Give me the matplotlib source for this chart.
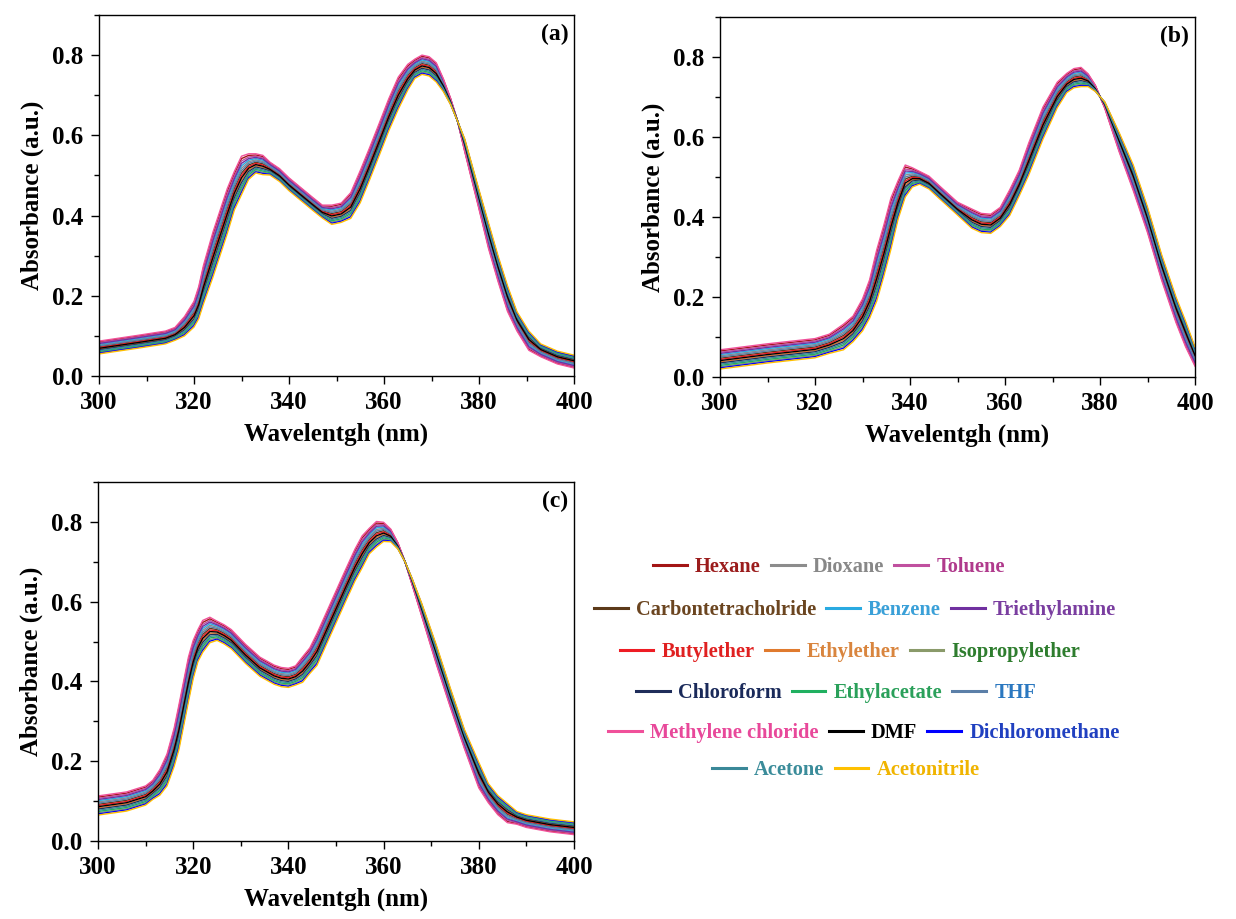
import numpy as np
import matplotlib
matplotlib.use("Agg")
import matplotlib.pyplot as plt
from matplotlib.lines import Line2D
from matplotlib.ticker import MultipleLocator

solvents = ["Hexane", "Dioxane", "Toluene", "Carbontetracholride", "Benzene",
            "Triethylamine", "Butylether", "Ethylether", "Isopropylether",
            "Chloroform", "Ethylacetate", "THF", "Methylene chloride", "DMF",
            "Dichloromethane", "Acetone", "Acetonitrile"]
line_colors = ["#a31515", "#8c8c8c", "#c0509f", "#5c3a1a", "#29aae1",
               "#7030a0", "#ee1c24", "#e07a2e", "#8a9a6a", "#1f2d5a",
               "#20b060", "#5b7fa8", "#f0509a", "#000000", "#0000ff",
               "#3a8898", "#ffc000"]
text_colors = ["#9b1c1c", "#888888", "#b03a8c", "#6b4520", "#3aa0d8",
               "#7a3ea0", "#e02020", "#d9853e", "#2e7d2e", "#1a2a5a",
               "#2aa05a", "#2b78c0", "#e8489a", "#000000", "#2040c0",
               "#3b8c9a", "#f0b400"]

# absorbance in mAU: one row per wavelength, columns in the solvent order above
wl_a = [300, 308, 314, 316, 318, 320, 321, 322, 324, 327, 328.5, 330, 331.5,
        333, 334.5, 336, 338, 340, 345, 347, 349, 351, 353, 355, 357, 359, 361,
        363, 365, 366.5, 368, 369.5, 371, 372.5, 374, 375.5, 377, 380, 382,
        384, 386, 388, 390.5, 393, 396.5, 400]
abs_a = [
    [85, 77, 83, 73, 79, 81, 71, 67, 59, 65, 61, 75, 87, 69, 57, 63, 55],
    [99, 91, 97, 87, 93, 95, 85, 81, 73, 79, 75, 89, 101, 83, 71, 77, 69],
    [110, 102, 108, 98, 104, 106, 96, 92, 84, 90, 86, 100, 112, 94, 82, 88, 80],
    [119, 111, 117, 107, 113, 115, 105, 101, 93, 99, 95, 109, 121, 103, 91, 97, 89],
    [145, 133, 142, 127, 136, 139, 124, 118, 106, 115, 109, 130, 148, 121, 103, 112, 100],
    [182, 166, 178, 158, 170, 174, 154, 146, 130, 142, 134, 162, 186, 150, 126, 138, 122],
    [218, 198, 213, 188, 203, 208, 183, 173, 153, 168, 158, 193, 223, 178, 148, 163, 143],
    [270, 246, 264, 234, 252, 258, 228, 216, 192, 210, 198, 240, 276, 222, 186, 204, 180],
    [352, 324, 345, 310, 331, 338, 303, 289, 261, 282, 268, 317, 359, 296, 254, 275, 247],
    [460, 432, 453, 418, 439, 446, 411, 397, 369, 390, 376, 425, 467, 404, 362, 383, 355],
    [504, 480, 498, 468, 486, 492, 462, 450, 426, 444, 432, 474, 510, 456, 420, 438, 414],
    [542, 518, 536, 506, 524, 530, 500, 488, 464, 482, 470, 512, 548, 494, 458, 476, 452],
    [550, 534, 546, 526, 538, 542, 522, 514, 498, 510, 502, 530, 554, 518, 494, 506, 490],
    [551, 539, 548, 533, 542, 545, 530, 524, 512, 521, 515, 536, 554, 527, 509, 518, 506],
    [547, 535, 544, 529, 538, 541, 526, 520, 508, 517, 511, 532, 550, 523, 505, 514, 502],
    [531, 523, 529, 519, 525, 527, 517, 513, 505, 511, 507, 521, 533, 515, 503, 509, 501],
    [515, 507, 513, 503, 509, 511, 501, 497, 489, 495, 491, 505, 517, 499, 487, 493, 485],
    [492, 484, 490, 480, 486, 488, 478, 474, 466, 472, 468, 482, 494, 476, 464, 470, 462],
    [443, 435, 441, 431, 437, 439, 429, 425, 417, 423, 419, 433, 445, 427, 415, 421, 413],
    [424, 416, 422, 412, 418, 420, 410, 406, 398, 404, 400, 414, 426, 408, 396, 402, 394],
    [423, 411, 420, 405, 414, 417, 402, 396, 384, 393, 387, 408, 426, 399, 381, 390, 378],
    [428, 416, 425, 410, 419, 422, 407, 401, 389, 398, 392, 413, 431, 404, 386, 395, 383],
    [453, 437, 449, 429, 441, 445, 425, 417, 401, 413, 405, 433, 457, 421, 397, 409, 393],
    [507, 487, 502, 477, 492, 497, 472, 462, 442, 457, 447, 482, 512, 467, 437, 452, 432],
    [565, 545, 560, 535, 550, 555, 530, 520, 500, 515, 505, 540, 570, 525, 495, 510, 490],
    [625, 605, 620, 595, 610, 615, 590, 580, 560, 575, 565, 600, 630, 585, 555, 570, 550],
    [686, 666, 681, 656, 671, 676, 651, 641, 621, 636, 626, 661, 691, 646, 616, 631, 611],
    [740, 720, 735, 710, 725, 730, 705, 695, 675, 690, 680, 715, 745, 700, 670, 685, 665],
    [773, 757, 769, 749, 761, 765, 745, 737, 721, 733, 725, 753, 777, 741, 717, 729, 713],
    [787, 775, 784, 769, 778, 781, 766, 760, 748, 757, 751, 772, 790, 763, 745, 754, 742],
    [797, 785, 794, 779, 788, 791, 776, 770, 758, 767, 761, 782, 800, 773, 755, 764, 752],
    [793, 781, 790, 775, 784, 787, 772, 766, 754, 763, 757, 778, 796, 769, 751, 760, 748],
    [778, 766, 775, 760, 769, 772, 757, 751, 739, 748, 742, 763, 781, 754, 736, 745, 733],
    [739, 731, 737, 727, 733, 735, 725, 721, 713, 719, 715, 729, 741, 723, 711, 717, 709],
    [692, 688, 691, 686, 689, 690, 685, 683, 679, 682, 680, 687, 693, 684, 678, 681, 677],
    [635, 635, 635, 635, 635, 635, 635, 635, 635, 635, 635, 635, 635, 635, 635, 635, 635],
    [561, 569, 563, 573, 567, 565, 575, 579, 587, 581, 585, 571, 559, 577, 589, 583, 591],
    [419, 431, 422, 437, 428, 425, 440, 446, 458, 449, 455, 434, 416, 443, 461, 452, 464],
    [322, 338, 326, 346, 334, 330, 350, 358, 374, 362, 370, 342, 318, 354, 378, 366, 382],
    [240, 256, 244, 264, 252, 248, 268, 276, 292, 280, 288, 260, 236, 272, 296, 284, 300],
    [165, 181, 169, 189, 177, 173, 193, 201, 217, 205, 213, 185, 161, 197, 221, 209, 225],
    [115, 127, 118, 133, 124, 121, 136, 142, 154, 145, 151, 130, 112, 139, 157, 148, 160],
    [67, 79, 70, 85, 76, 73, 88, 94, 106, 97, 103, 82, 64, 91, 109, 100, 112],
    [50, 58, 52, 62, 56, 54, 64, 68, 76, 70, 74, 60, 48, 66, 78, 72, 80],
    [32, 40, 34, 44, 38, 36, 46, 50, 58, 52, 56, 42, 30, 48, 60, 54, 62],
    [22, 30, 24, 34, 28, 26, 36, 40, 48, 42, 46, 32, 20, 38, 50, 44, 52],
]

wl_b = [300, 310, 320, 323, 326, 328, 330, 331.5, 333, 334.5, 336, 337.5, 339,
        340.5, 342, 344, 346, 350, 353, 355, 357, 359, 361, 363, 365, 368, 371,
        373, 374.5, 376, 377.5, 379, 381, 384, 387, 390, 393, 396, 398, 400]
abs_b = [
    [65, 53, 62, 47, 56, 59, 44, 38, 26, 35, 29, 50, 68, 41, 23, 32, 20],
    [80, 68, 77, 62, 71, 74, 59, 53, 41, 50, 44, 65, 83, 56, 38, 47, 35],
    [93, 81, 90, 75, 84, 87, 72, 66, 54, 63, 57, 78, 96, 69, 51, 60, 48],
    [104, 92, 101, 86, 95, 98, 83, 77, 65, 74, 68, 89, 107, 80, 62, 71, 59],
    [128, 112, 124, 104, 116, 120, 100, 92, 76, 88, 80, 108, 132, 96, 72, 84, 68],
    [148, 132, 144, 124, 136, 140, 120, 112, 96, 108, 100, 128, 152, 116, 92, 104, 88],
    [190, 170, 185, 160, 175, 180, 155, 145, 125, 140, 130, 165, 195, 150, 120, 135, 115],
    [237, 213, 231, 201, 219, 225, 195, 183, 159, 177, 165, 207, 243, 189, 153, 171, 147],
    [310, 278, 302, 262, 286, 294, 254, 238, 206, 230, 214, 270, 318, 246, 198, 222, 190],
    [372, 340, 364, 324, 348, 356, 316, 300, 268, 292, 276, 332, 380, 308, 260, 284, 252],
    [440, 408, 432, 392, 416, 424, 384, 368, 336, 360, 344, 400, 448, 376, 328, 352, 320],
    [485, 461, 479, 449, 467, 473, 443, 431, 407, 425, 413, 455, 491, 437, 401, 419, 395],
    [525, 505, 520, 495, 510, 515, 490, 480, 460, 475, 465, 500, 530, 485, 455, 470, 450],
    [520, 508, 517, 502, 511, 514, 499, 493, 481, 490, 484, 505, 523, 496, 478, 487, 475],
    [512, 504, 510, 500, 506, 508, 498, 494, 486, 492, 488, 502, 514, 496, 484, 490, 482],
    [500, 492, 498, 488, 494, 496, 486, 482, 474, 480, 476, 490, 502, 484, 472, 478, 470],
    [478, 470, 476, 466, 472, 474, 464, 460, 452, 458, 454, 468, 480, 462, 450, 456, 448],
    [435, 427, 433, 423, 429, 431, 421, 417, 409, 415, 411, 425, 437, 419, 407, 413, 405],
    [417, 405, 414, 399, 408, 411, 396, 390, 378, 387, 381, 402, 420, 393, 375, 384, 372],
    [406, 394, 403, 388, 397, 400, 385, 379, 367, 376, 370, 391, 409, 382, 364, 373, 361],
    [404, 392, 401, 386, 395, 398, 383, 377, 365, 374, 368, 389, 407, 380, 362, 371, 359],
    [421, 409, 418, 403, 412, 415, 400, 394, 382, 391, 385, 406, 424, 397, 379, 388, 376],
    [464, 448, 460, 440, 452, 456, 436, 428, 412, 424, 416, 444, 468, 432, 408, 420, 404],
    [513, 497, 509, 489, 501, 505, 485, 477, 461, 473, 465, 493, 517, 481, 457, 469, 453],
    [580, 560, 575, 550, 565, 570, 545, 535, 515, 530, 520, 555, 585, 540, 510, 525, 505],
    [670, 650, 665, 640, 655, 660, 635, 625, 605, 620, 610, 645, 675, 630, 600, 615, 595],
    [733, 717, 729, 709, 721, 725, 705, 697, 681, 693, 685, 713, 737, 701, 677, 689, 673],
    [756, 744, 753, 738, 747, 750, 735, 729, 717, 726, 720, 741, 759, 732, 714, 723, 711],
    [768, 756, 765, 750, 759, 762, 747, 741, 729, 738, 732, 753, 771, 744, 726, 735, 723],
    [771, 759, 768, 753, 762, 765, 750, 744, 732, 741, 735, 756, 774, 747, 729, 738, 726],
    [756, 748, 754, 744, 750, 752, 742, 738, 730, 736, 732, 746, 758, 740, 728, 734, 726],
    [729, 725, 728, 723, 726, 727, 722, 720, 716, 719, 717, 724, 730, 721, 715, 718, 714],
    [673, 677, 674, 679, 676, 675, 680, 682, 686, 683, 685, 678, 672, 681, 687, 684, 688],
    [567, 579, 570, 585, 576, 573, 588, 594, 606, 597, 603, 582, 564, 591, 609, 600, 612],
    [470, 486, 474, 494, 482, 478, 498, 506, 522, 510, 518, 490, 466, 502, 526, 514, 530],
    [365, 381, 369, 389, 377, 373, 393, 401, 417, 405, 413, 385, 361, 397, 421, 409, 425],
    [245, 261, 249, 269, 257, 253, 273, 281, 297, 285, 293, 265, 241, 277, 301, 289, 305],
    [140, 156, 144, 164, 152, 148, 168, 176, 192, 180, 188, 160, 136, 172, 196, 184, 200],
    [80, 96, 84, 104, 92, 88, 108, 116, 132, 120, 128, 100, 76, 112, 136, 124, 140],
    [30, 42, 33, 48, 39, 36, 51, 57, 69, 60, 66, 45, 27, 54, 72, 63, 75],
]

wl_c = [300, 306, 310, 311.5, 313, 314.5, 316, 317, 318, 319, 320, 321, 322,
        323.5, 325, 326.5, 328, 331, 334, 337, 338.5, 340, 341.5, 343, 344.5,
        346, 349, 352, 354, 355.5, 357, 358.5, 360, 361.5, 363, 364.5, 366, 368,
        371, 374, 377, 380, 382, 384, 386, 388, 390, 395, 400]
abs_c = [
    [110, 98, 107, 92, 101, 104, 89, 83, 71, 80, 74, 95, 113, 86, 68, 77, 65],
    [120, 108, 117, 102, 111, 114, 99, 93, 81, 90, 84, 105, 123, 96, 78, 87, 75],
    [135, 123, 132, 117, 126, 129, 114, 108, 96, 105, 99, 120, 138, 111, 93, 102, 90],
    [149, 137, 146, 131, 140, 143, 128, 122, 110, 119, 113, 134, 152, 125, 107, 116, 104],
    [175, 159, 171, 151, 163, 167, 147, 139, 123, 135, 127, 155, 179, 143, 119, 131, 115],
    [213, 193, 208, 183, 198, 203, 178, 168, 148, 163, 153, 188, 218, 173, 143, 158, 138],
    [277, 253, 271, 241, 259, 265, 235, 223, 199, 217, 205, 247, 283, 229, 193, 211, 187],
    [334, 306, 327, 292, 313, 320, 285, 271, 243, 264, 250, 299, 341, 278, 236, 257, 229],
    [394, 366, 387, 352, 373, 380, 345, 331, 303, 324, 310, 359, 401, 338, 296, 317, 289],
    [454, 426, 447, 412, 433, 440, 405, 391, 363, 384, 370, 419, 461, 398, 356, 377, 349],
    [497, 473, 491, 461, 479, 485, 455, 443, 419, 437, 425, 467, 503, 449, 413, 431, 407],
    [525, 505, 520, 495, 510, 515, 490, 480, 460, 475, 465, 500, 530, 485, 455, 470, 450],
    [548, 528, 543, 518, 533, 538, 513, 503, 483, 498, 488, 523, 553, 508, 478, 493, 473],
    [557, 541, 553, 533, 545, 549, 529, 521, 505, 517, 509, 537, 561, 525, 501, 513, 497],
    [548, 536, 545, 530, 539, 542, 527, 521, 509, 518, 512, 533, 551, 524, 506, 515, 503],
    [539, 527, 536, 521, 530, 533, 518, 512, 500, 509, 503, 524, 542, 515, 497, 506, 494],
    [527, 515, 524, 509, 518, 521, 506, 500, 488, 497, 491, 512, 530, 503, 485, 494, 482],
    [490, 478, 487, 472, 481, 484, 469, 463, 451, 460, 454, 475, 493, 466, 448, 457, 445],
    [458, 446, 455, 440, 449, 452, 437, 431, 419, 428, 422, 443, 461, 434, 416, 425, 413],
    [438, 426, 435, 420, 429, 432, 417, 411, 399, 408, 402, 423, 441, 414, 396, 405, 393],
    [432, 420, 429, 414, 423, 426, 411, 405, 393, 402, 396, 417, 435, 408, 390, 399, 387],
    [430, 418, 427, 412, 421, 424, 409, 403, 391, 400, 394, 415, 433, 406, 388, 397, 385],
    [436, 424, 433, 418, 427, 430, 415, 409, 397, 406, 400, 421, 439, 412, 394, 403, 391],
    [458, 442, 454, 434, 446, 450, 430, 422, 406, 418, 410, 438, 462, 426, 402, 414, 398],
    [480, 464, 476, 456, 468, 472, 452, 444, 428, 440, 432, 460, 484, 448, 424, 436, 420],
    [515, 495, 510, 485, 500, 505, 480, 470, 450, 465, 455, 490, 520, 475, 445, 460, 440],
    [595, 575, 590, 565, 580, 585, 560, 550, 530, 545, 535, 570, 600, 555, 525, 540, 520],
    [675, 655, 670, 645, 660, 665, 640, 630, 610, 625, 615, 650, 680, 635, 605, 620, 600],
    [727, 707, 722, 697, 712, 717, 692, 682, 662, 677, 667, 702, 732, 687, 657, 672, 652],
    [760, 740, 755, 730, 745, 750, 725, 715, 695, 710, 700, 735, 765, 720, 690, 705, 685],
    [780, 764, 776, 756, 768, 772, 752, 744, 728, 740, 732, 760, 784, 748, 724, 736, 720],
    [797, 781, 793, 773, 785, 789, 769, 761, 745, 757, 749, 777, 801, 765, 741, 753, 737],
    [796, 784, 793, 778, 787, 790, 775, 769, 757, 766, 760, 781, 799, 772, 754, 763, 751],
    [780, 772, 778, 768, 774, 776, 766, 762, 754, 760, 756, 770, 782, 764, 752, 758, 750],
    [747, 743, 746, 741, 744, 745, 740, 738, 734, 737, 735, 742, 748, 739, 733, 736, 732],
    [700, 700, 700, 700, 700, 700, 700, 700, 700, 700, 700, 700, 700, 700, 700, 700, 700],
    [643, 647, 644, 649, 646, 645, 650, 652, 656, 653, 655, 648, 642, 651, 657, 654, 658],
    [566, 574, 568, 578, 572, 570, 580, 584, 592, 586, 590, 576, 564, 582, 594, 588, 596],
    [449, 461, 452, 467, 458, 455, 470, 476, 488, 479, 485, 464, 446, 473, 491, 482, 494],
    [339, 351, 342, 357, 348, 345, 360, 366, 378, 369, 375, 354, 336, 363, 381, 372, 384],
    [234, 246, 237, 252, 243, 240, 255, 261, 273, 264, 270, 249, 231, 258, 276, 267, 279],
    [137, 153, 141, 161, 149, 145, 165, 173, 189, 177, 185, 157, 133, 169, 193, 181, 197],
    [99, 111, 102, 117, 108, 105, 120, 126, 138, 129, 135, 114, 96, 123, 141, 132, 144],
    [69, 81, 72, 87, 78, 75, 90, 96, 108, 99, 105, 84, 66, 93, 111, 102, 114],
    [49, 61, 52, 67, 58, 55, 70, 76, 88, 79, 85, 64, 46, 73, 91, 82, 94],
    [44, 52, 46, 56, 50, 48, 58, 62, 70, 64, 68, 54, 42, 60, 72, 66, 74],
    [36, 44, 38, 48, 42, 40, 50, 54, 62, 56, 60, 46, 34, 52, 64, 58, 66],
    [25, 33, 27, 37, 31, 29, 39, 43, 51, 45, 49, 35, 23, 41, 53, 47, 55],
    [18, 26, 20, 30, 24, 22, 32, 36, 44, 38, 42, 28, 16, 34, 46, 40, 48],
]

legend_rows = [[0, 1, 2], [3, 4, 5], [6, 7, 8], [9, 10, 11], [12, 13, 14], [15, 16]]

plt.rcParams['font.family'] = 'Liberation Serif'
plt.rcParams['font.weight'] = 'bold'
plt.rcParams['axes.labelweight'] = 'bold'

W, H = 1236, 919
fig = plt.figure(figsize=(W / 100, H / 100), dpi=100)

panels = [
    (wl_a, abs_a, "(a)", [99, 15, 574, 376]),
    (wl_b, abs_b, "(b)", [720, 17, 1195, 377]),
    (wl_c, abs_c, "(c)", [98, 482, 574, 841]),
]

for wl, table, tag, (x0, y0, x1, y1) in panels:
    ax = fig.add_axes([x0 / W, 1 - y1 / H, (x1 - x0) / W, (y1 - y0) / H])
    data = np.array(table) / 1000.0
    for k, name in enumerate(solvents):
        ax.plot(wl, data[:, k], color=line_colors[k], lw=1.0, label=name)
    ax.set_xlim(300, 400)
    ax.set_ylim(0, 0.9)
    ax.xaxis.set_major_locator(MultipleLocator(20))
    ax.xaxis.set_minor_locator(MultipleLocator(10))
    ax.yaxis.set_major_locator(MultipleLocator(0.2))
    ax.yaxis.set_minor_locator(MultipleLocator(0.1))
    ax.tick_params(which='both', direction='out', width=1, labelsize=18)
    ax.tick_params(which='major', length=6, pad=5)
    ax.tick_params(which='minor', length=3.5)
    for sp in ax.spines.values():
        sp.set_linewidth(1.0)
    ax.set_xlabel("Wavelentgh (nm)", fontsize=18, labelpad=6)
    ax.set_ylabel("Absorbance (a.u.)", fontsize=18, labelpad=6)
    ax.text(0.988, 0.975, tag, transform=ax.transAxes, ha='right', va='top',
            fontsize=17)

# legend block, one centred row at a time
row_pos = [(829, 567), (855, 610), (850, 652), (836, 693), (864, 733), (846, 770)]
for row, (cx, cy) in zip(legend_rows, row_pos):
    handles = [Line2D([], [], color=line_colors[k], lw=2.2) for k in row]
    fig.legend(handles, [solvents[k] for k in row], loc='center',
               bbox_to_anchor=(cx / W, 1 - cy / H), ncol=len(row),
               frameon=False, prop={'weight': 'bold', 'size': 14.7},
               handlelength=1.65, handletextpad=0.4, columnspacing=0.5,
               labelcolor=[text_colors[k] for k in row],
               borderpad=0, borderaxespad=0)

fig.savefig("out.png", dpi=100)
